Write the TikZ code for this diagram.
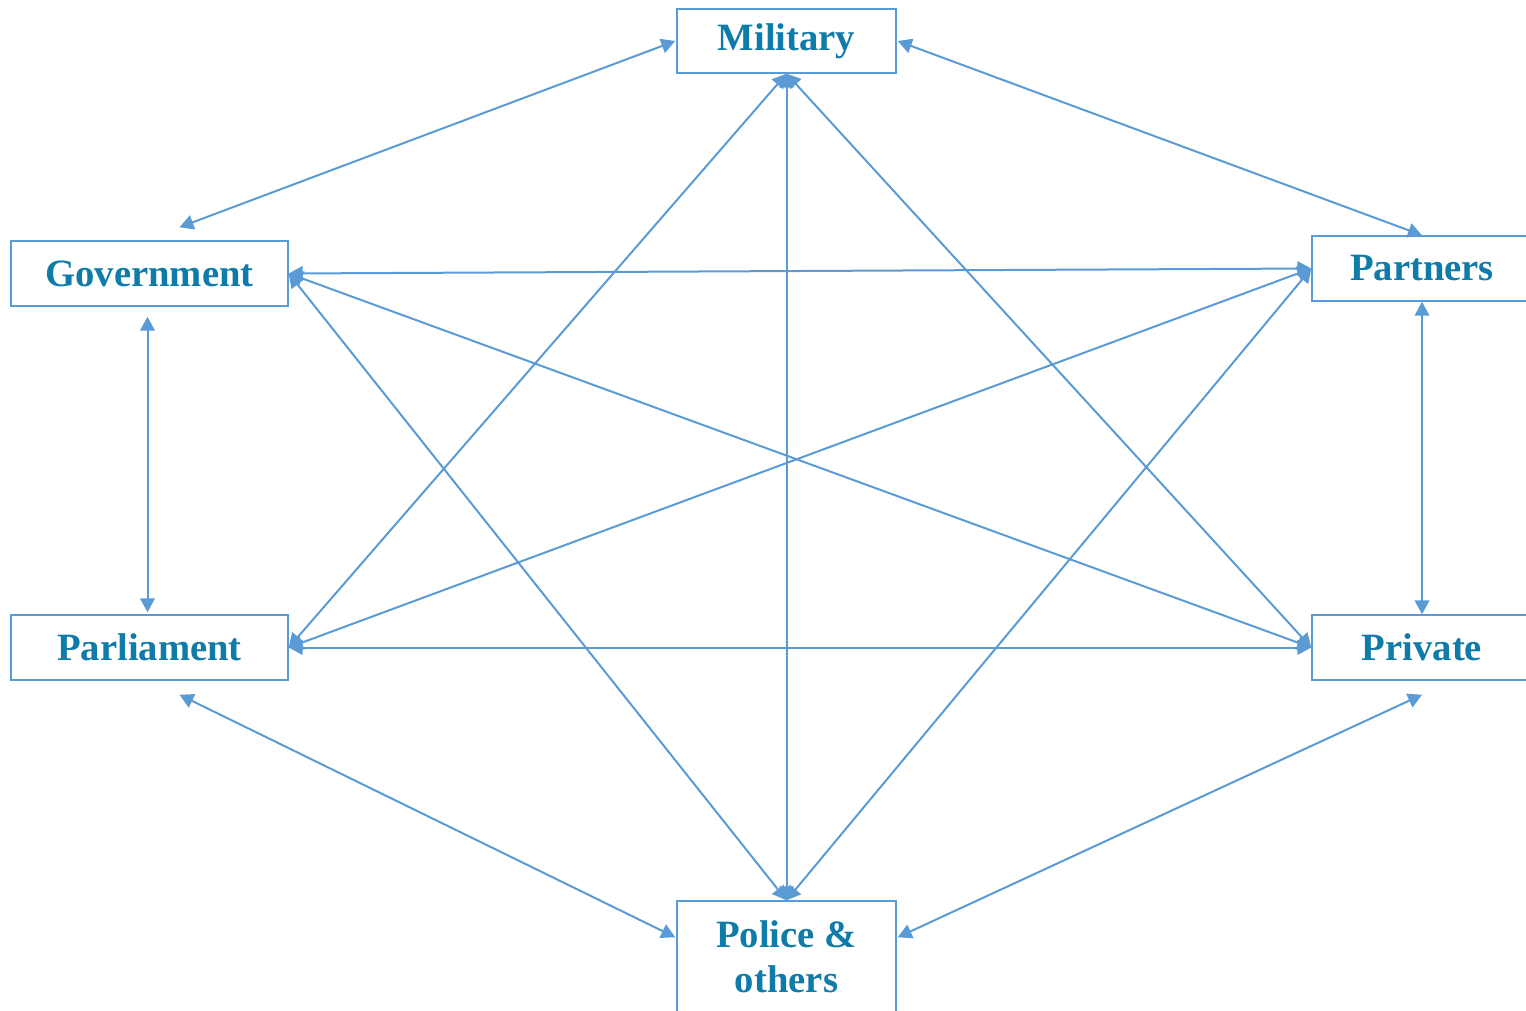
\documentclass[tikz,border=0pt]{standalone}
\usepackage{fontspec}
\setmainfont{Liberation Serif}
\usetikzlibrary{arrows.meta,calc}
\definecolor{txtblue}{HTML}{0E7BA8}
\definecolor{lineblue}{HTML}{5B9BD5}
\tikzset{
  box/.style={draw=lineblue, line width=1.1pt, fill=white, text=txtblue,
    font=\fontsize{29}{34}\selectfont\bfseries, inner sep=0pt, align=center},
  link/.style={draw=lineblue, line width=1.5pt,
    {Triangle[length=10.5pt,width=11pt]}-{Triangle[length=10.5pt,width=11pt]}},
}
\begin{document}
\begin{tikzpicture}[x=0.75pt,y=-0.75pt]
\useasboundingbox (0,0) rectangle (1526,1010);
\node[box, minimum width=219*0.75pt, minimum height=64*0.75pt] (mil) at (786.5,41) {Military};
\node[box, minimum width=277*0.75pt, minimum height=65*0.75pt] (gov) at (149.5,273.5) {Government};
\node[box, minimum width=220*0.75pt, minimum height=65*0.75pt] (prt) at (1422,268.5) {Partners};
\node[box, minimum width=277*0.75pt, minimum height=65*0.75pt] (par) at (149.5,647.5) {Parliament};
\node[box, minimum width=220*0.75pt, minimum height=65*0.75pt] (pri) at (1422,647.5) {Private};
\node[box, minimum width=219*0.75pt, minimum height=111*0.75pt] (pol) at (786.5,956.5) {Police \&\\others};

\coordinate (govtop) at ($(gov.north)+(30,-13)$);
\coordinate (govbot) at ($(gov.south)+(-2,10)$);
\coordinate (partop) at ($(par.north)+(-2,-2)$);
\coordinate (parbot) at ($(par.south)+(30,14)$);
\coordinate (pribot) at ($(pri.south)+(0,14)$);
\coordinate (polw) at ($(pol.north west)+(-1,37)$);
\coordinate (pole) at ($(pol.north east)+(1,37)$);
\coordinate (milw) at ($(mil.west)+(-1,0)$);
\coordinate (mile) at ($(mil.east)+(1,0)$);

\draw[link] (milw) -- (govtop);
\draw[link] (mile) -- (prt.north);
\draw[link] (gov.east) -- (prt.west);
\draw[link] (govbot) -- (partop);
\draw[link] (prt.south) -- (pri.north);
\draw[link] (par.east) -- (pri.west);
\draw[link] (parbot) -- (polw);
\draw[link] (pribot) -- (pole);
\draw[link] (mil.south) -- (pol.north);
\draw[link] (mil.south) -- (par.east);
\draw[link] (mil.south) -- (pri.west);
\draw[link] (gov.east) -- (pri.west);
\draw[link] (gov.east) -- (pol.north);
\draw[link] (prt.west) -- (par.east);
\draw[link] (prt.west) -- (pol.north);
\end{tikzpicture}
\end{document}
